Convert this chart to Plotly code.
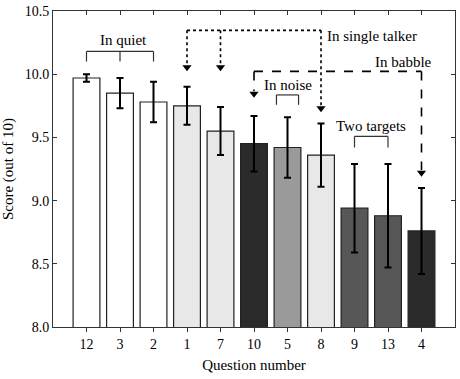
import plotly.graph_objects as go

questions = ["12", "3", "2", "1", "7", "10", "5", "8", "9", "13", "4"]
scores = [9.97, 9.85, 9.78, 9.75, 9.55, 9.45, 9.42, 9.36, 8.94, 8.88, 8.76]
errors = [0.03, 0.12, 0.16, 0.15, 0.19, 0.22, 0.24, 0.25, 0.35, 0.41, 0.34]
bar_colors = ["#ffffff", "#ffffff", "#ffffff", "#e8e8e8", "#e8e8e8", "#2b2b2b",
              "#9a9a9a", "#e8e8e8", "#575757", "#575757", "#2b2b2b"]

xs = list(range(len(questions)))
FONT = "Liberation Serif"

fig = go.Figure()
fig.add_trace(go.Bar(
    x=xs, y=scores, width=0.8,
    marker=dict(color=bar_colors, line=dict(color="#222222", width=1.2)),
    error_y=dict(type="data", array=errors, visible=True, color="#000000",
                 thickness=2, width=3.5),
    showlegend=False, hoverinfo="skip",
))

# arrowheads (on overlay axis so top ticks render)
arrow_x = [3, 4, 7, 5, 10]
arrow_y = [10.055, 10.055, 9.73, 9.845, 9.22]
fig.add_trace(go.Scatter(
    x=arrow_x, y=arrow_y, mode="markers", xaxis="x2",
    marker=dict(symbol="triangle-down", size=8, color="#000000"),
    showlegend=False, hoverinfo="skip",
))

shapes = []
def line(x0, y0, x1, y1, dash="solid", w=1.2, color="#333333"):
    shapes.append(dict(type="line", xref="x", yref="y", x0=x0, y0=y0, x1=x1, y1=y1,
                       line=dict(color=color, width=w, dash=dash)))

# In quiet bracket
line(0, 10.18, 2, 10.18)
for xv in [0, 1, 2]:
    line(xv, 10.18, xv, 10.10)
# In noise bracket
line(5.67, 9.836, 6.33, 9.836)
line(5.67, 9.836, 5.67, 9.758)
line(6.33, 9.836, 6.33, 9.758)
# Two targets bracket
line(8, 9.508, 9, 9.508)
line(8, 9.508, 8, 9.42)
line(9, 9.508, 9, 9.42)
# Single talker dotted
line(3, 10.347, 7, 10.347, dash="dot", w=1.6, color="#000000")
line(3, 10.347, 3, 10.07, dash="dot", w=1.6, color="#000000")
line(4, 10.347, 4, 10.07, dash="dot", w=1.6, color="#000000")
line(7, 10.347, 7, 9.75, dash="dot", w=1.6, color="#000000")
# Babble dashed
line(5, 10.022, 10, 10.022, dash="dash", w=1.6, color="#000000")
line(5, 10.022, 5, 9.865, dash="dash", w=1.6, color="#000000")
line(10, 10.022, 10, 9.24, dash="dash", w=1.6, color="#000000")

annotations = []
def text(t, x, y, anchor="center"):
    annotations.append(dict(text=t, x=x, y=y, xref="x", yref="y", showarrow=False,
                            xanchor=anchor, yanchor="middle",
                            font=dict(family=FONT, size=15, color="#000000")))

text("In quiet", 1.1, 10.27)
text("In single talker", 7.13, 10.306, "left")
text("In babble", 10.36, 10.10, "right")
text("In noise", 6, 9.915)
text("Two targets", 8.5, 9.594)

fig.update_layout(
    width=460, height=379,
    margin=dict(l=53, r=4, t=9, b=52),
    paper_bgcolor="white", plot_bgcolor="white",
    font=dict(family=FONT, size=14, color="#000000"),
    shapes=shapes, annotations=annotations,
    xaxis=dict(range=[-1, 11], tickvals=xs, ticktext=questions,
               ticks="outside", ticklen=4, tickcolor="#333333",
               showline=True, linecolor="#333333", linewidth=1, mirror=True,
               showgrid=False, zeroline=False,
               title=dict(text="Question number", standoff=8,
                          font=dict(family=FONT, size=15))),
    xaxis2=dict(range=[-1, 11], tickvals=xs, overlaying="x", side="top",
                ticks="inside", ticklen=4, tickcolor="#333333",
                showticklabels=False, showline=False, showgrid=False, zeroline=False),
    yaxis=dict(range=[8, 10.5], dtick=0.5, tickformat=".1f",
               ticks="inside", ticklen=4, tickcolor="#333333",
               showline=True, linecolor="#333333", linewidth=1, mirror="ticks",
               showgrid=False, zeroline=False,
               title=dict(text="Score (out of 10)", standoff=7,
                          font=dict(family=FONT, size=15))),
    bargap=0.2,
)

fig.write_html("out.html",
               config={"displayModeBar": False},
               post_script="document.body.style.margin='0';document.body.style.overflow='hidden';")
